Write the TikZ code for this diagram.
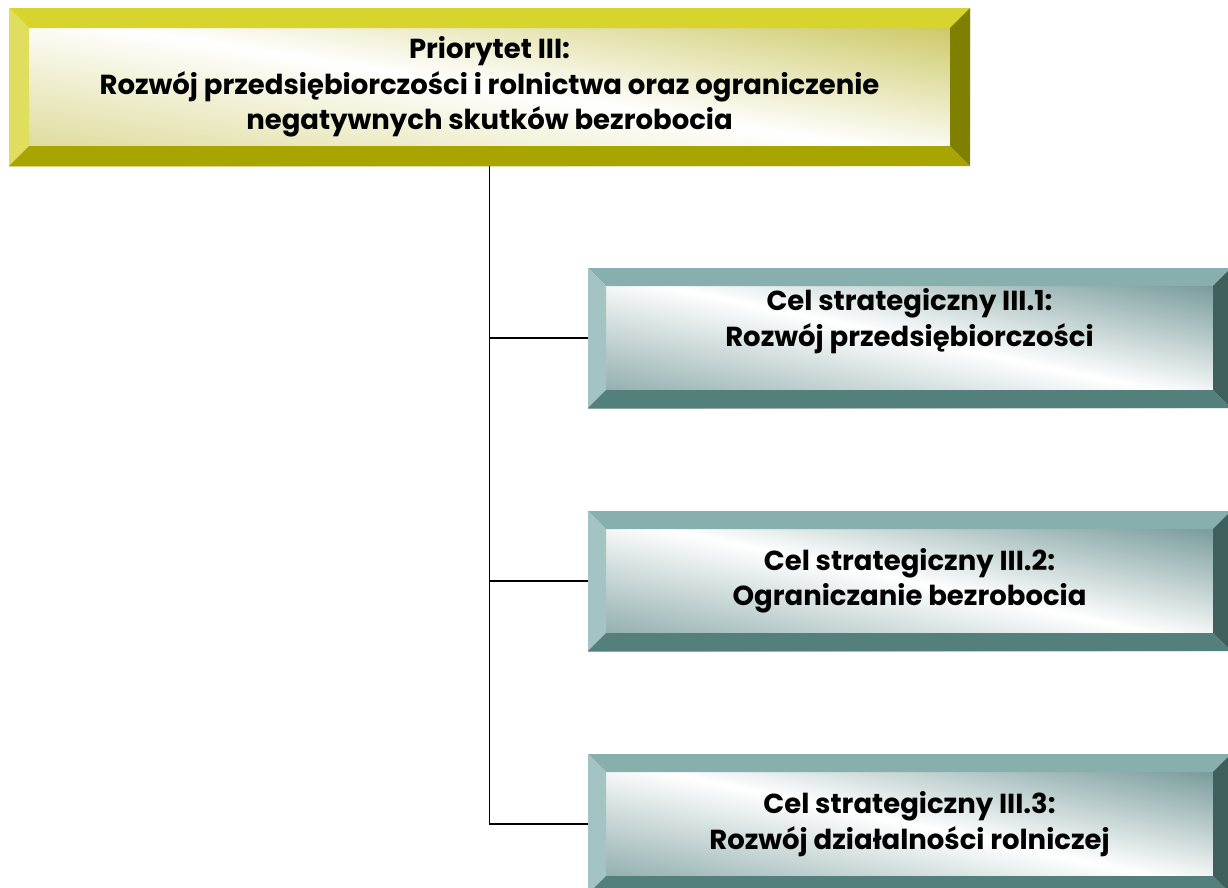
\documentclass[tikz,border=0pt]{standalone}
\usepackage{fontspec}
\setmainfont{Poppins}
\usetikzlibrary{calc}
\definecolor{oliveTop}{RGB}{216,212,46}
\definecolor{oliveLeft}{RGB}{224,222,94}
\definecolor{oliveBottom}{RGB}{168,164,0}
\definecolor{oliveRight}{RGB}{128,128,0}
\definecolor{oliveTint}{RGB}{204,200,100}
\definecolor{tealTop}{RGB}{134,175,174}
\definecolor{tealLeft}{RGB}{163,196,195}
\definecolor{tealBottom}{RGB}{84,128,124}
\definecolor{tealRight}{RGB}{63,95,92}
\definecolor{tealTint}{RGB}{122,156,156}
% bevel round a node: (name)[width](top,left,bottom,right)
\def\bevelbox(#1)[#2](#3,#4,#5,#6){
\fill[#3] (#1.north west) -- (#1.north east) -- ($(#1.north east)+(-#2,#2)$) -- ($(#1.north west)+(#2,#2)$) -- cycle;
\fill[#4] (#1.north west) -- (#1.south west) -- ($(#1.south west)+(#2,-#2)$) -- ($(#1.north west)+(#2,#2)$) -- cycle;
\fill[#5] (#1.south west) -- (#1.south east) -- ($(#1.south east)+(-#2,-#2)$) -- ($(#1.south west)+(#2,-#2)$) -- cycle;
\fill[#6] (#1.north east) -- (#1.south east) -- ($(#1.south east)+(-#2,-#2)$) -- ($(#1.north east)+(-#2,#2)$) -- cycle;
}
\tikzset{
  prio/.style={rectangle, inner sep=0pt, outer sep=0pt, minimum width=961pt, minimum height=158pt,
    top color=oliveTint, bottom color=oliveTint!65, middle color=white, shading angle=-9,
    align=center, font=\bfseries\fontsize{27.5}{35.5}\selectfont},
  cel/.style={rectangle, inner sep=0pt, outer sep=0pt, minimum width=643pt, minimum height=140pt,
    top color=tealTint, bottom color=tealTint!80, middle color=white, shading angle=-12,
    align=center, font=\bfseries\fontsize{27.5}{35.5}\selectfont},
  link/.style={line width=1.5pt, black}
}
\begin{document}
\begin{tikzpicture}[x=1pt, y=-1pt]
\useasboundingbox (0,0) rectangle (1228,887);
\clip (0,0) rectangle (1228,887);

%%%%% boxes %%%%%
\node[prio] (prio) at (489.5, 87) {Priorytet III:\\Rozwój przedsiębiorczości i rolnictwa oraz ograniczenie\\negatywnych skutków bezrobocia};
\bevelbox(prio)[20](oliveTop,oliveLeft,oliveBottom,oliveRight)

\node[cel] (celA) at (909.5, 338) {Cel strategiczny III.1:\\Rozwój przedsiębiorczości\rule[-41pt]{0pt}{0pt}};
\bevelbox(celA)[18](tealTop,tealLeft,tealBottom,tealRight)

\node[cel] (celB) at (909.5, 581) {Cel strategiczny III.2:\\Ograniczanie bezrobocia};
\bevelbox(celB)[18](tealTop,tealLeft,tealBottom,tealRight)

\node[cel] (celC) at (909.5, 824) {Cel strategiczny III.3:\\Rozwój działalności rolniczej};
\bevelbox(celC)[18](tealTop,tealLeft,tealBottom,tealRight)

%%%%% links %%%%%
\draw[link] (prio.south) |- (celA.west);
\draw[link] (prio.south) |- (celB.west);
\draw[link] (prio.south) |- (celC.west);
\end{tikzpicture}
\end{document}
